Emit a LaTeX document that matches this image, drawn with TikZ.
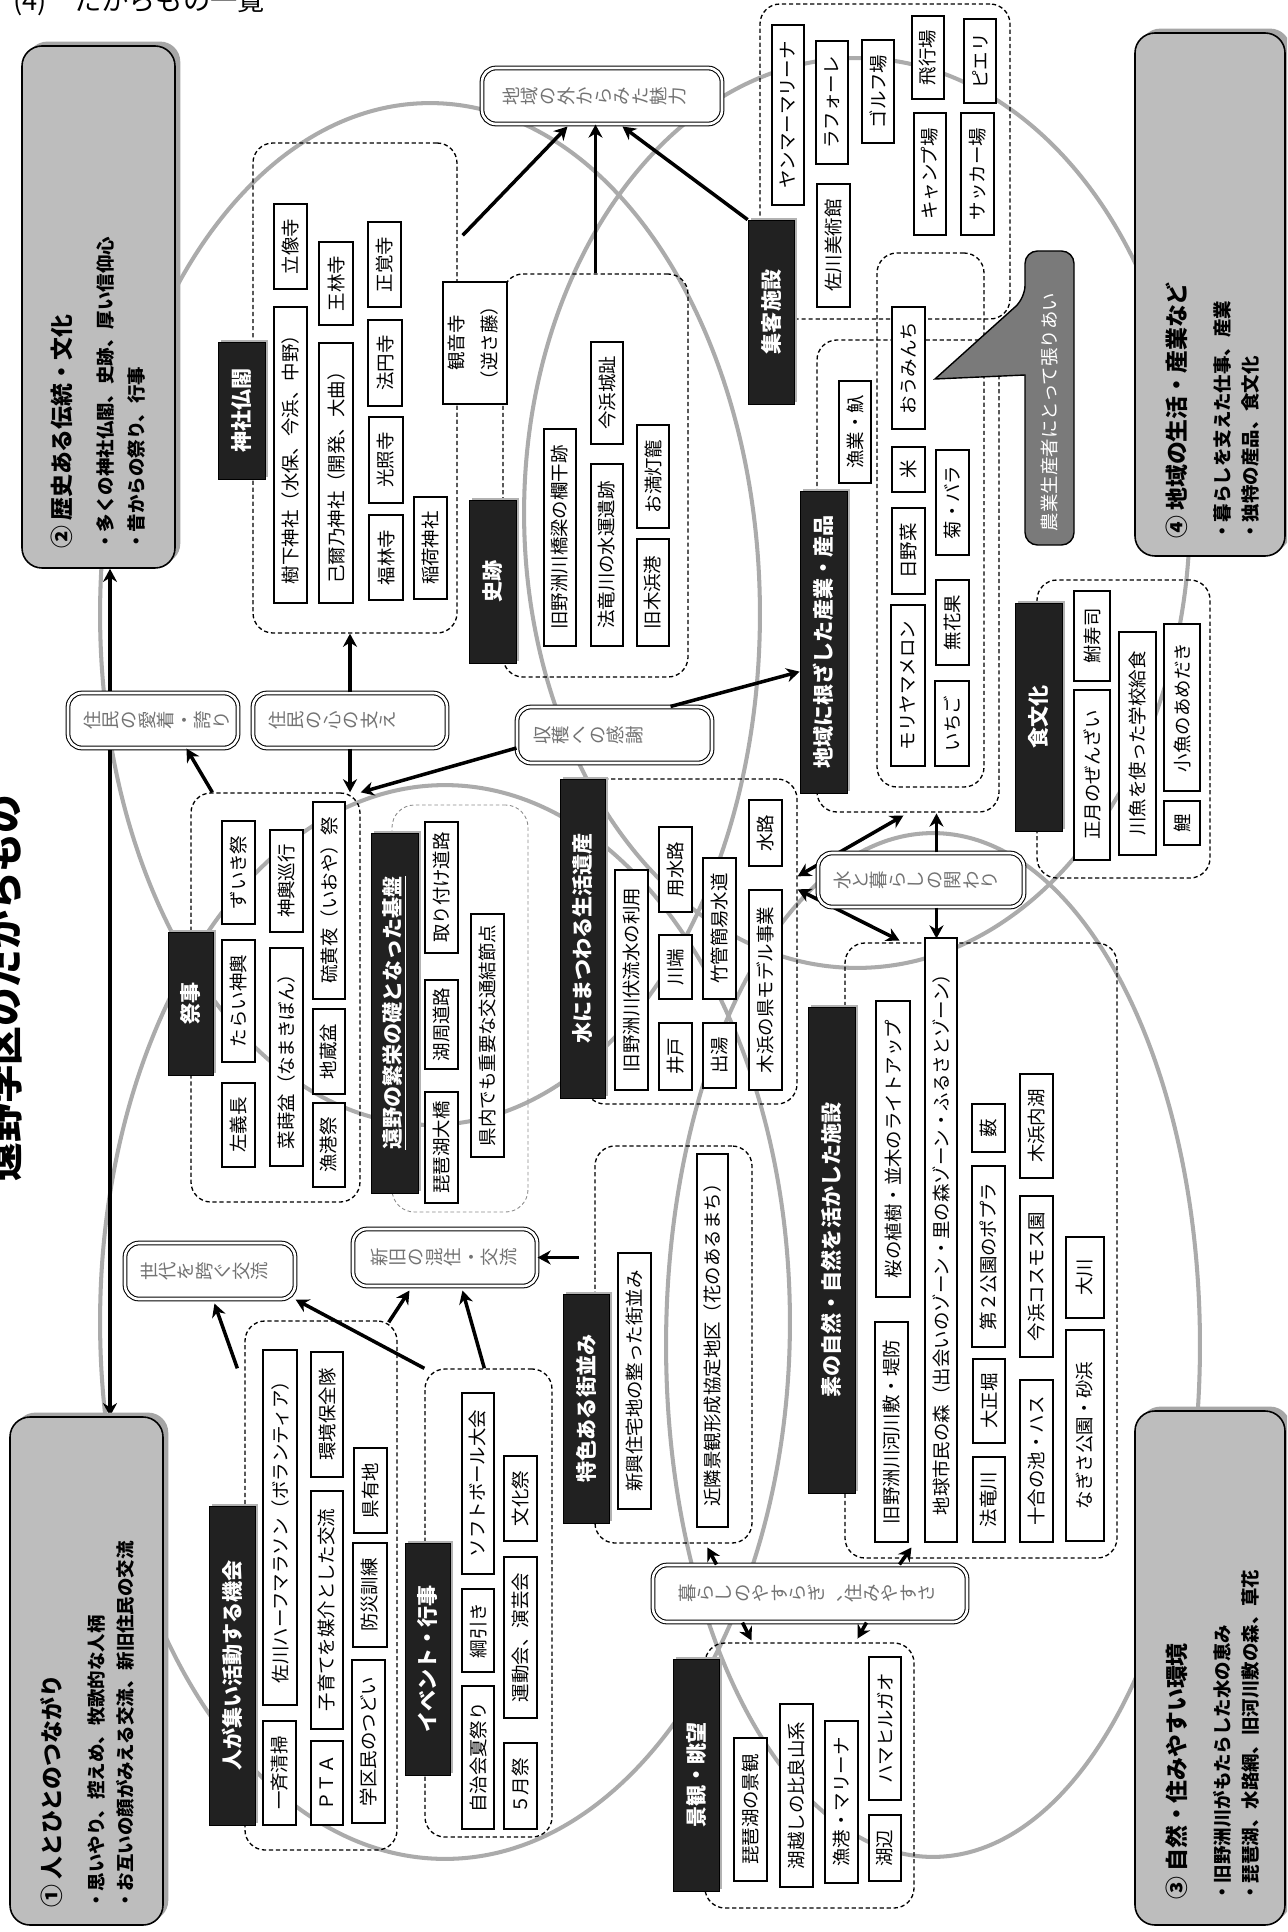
\documentclass[tikz,border=0pt]{standalone}
\usepackage{fontspec}
\setmainfont{Noto Sans CJK JP}
\usepackage{graphicx}
\usetikzlibrary{arrows.meta,calc,shadows}
\pgfdeclarelayer{bg}
\pgfsetlayers{bg,main}
\newcommand\fsz[1]{\fontsize{#1}{#1}\selectfont}
\makeatletter
\newcommand\rotchars[1]{\@tfor\rc@tok:=#1\do{\rotatebox[origin=c]{90}{\makebox[1em]{\rule[-0.12em]{0pt}{1em}\rc@tok}}}}
\makeatother
\newcommand\ibox[7][itm]{%
  \pgfmathsetmacro\ibW{abs(#5-#3)*0.02}%
  \pgfmathsetmacro\ibH{abs(#6-#4)*0.02}%
  \node[#1, minimum width=\ibW cm, minimum height=\ibH cm] (#2) at ({(#3+#5)/2},{(#4+#6)/2}) {\rotatebox{90}{#7}};}
\newcommand\dblbox[7]{%
  \pgfmathsetmacro\ibW{abs(#4-#2)*0.02}%
  \pgfmathsetmacro\ibH{abs(#5-#3)*0.02}%
  \node[dbl, minimum width=\ibW cm, minimum height=\ibH cm] (#1) at ({(#2+#4)/2},{(#3+#5)/2}) {};
  \node[dbltxt, anchor=west] (#1t) at ($(#1.west)+(#6,0)$) {\rotchars{#7}};}
\begin{document}
\begin{tikzpicture}[x=0.02cm, y=-0.02cm,
  grp/.style={draw, dash pattern=on 2.4pt off 1.6pt, line width=0.75pt, rounded corners=0.4cm, inner sep=0pt},
  grpg/.style={draw=black!45, dash pattern=on 2pt off 1.5pt, line width=0.5pt, rounded corners=0.45cm, inner sep=0pt},
  itm/.style={draw, fill=white, line width=0.9pt, inner sep=0pt, font=\fsz{10.5}},
  lbl/.style={draw=black, fill=black!87, text=white, inner sep=0pt, font=\bfseries\fsz{12},
    drop shadow={shadow xshift=1.6pt, shadow yshift=1.4pt, fill=black!30, opacity=1}},
  dbl/.style={draw, line width=0.6pt, double=white, double distance=1.5pt, fill=white, rounded corners=0.28cm, inner sep=0pt},
  dbltxt/.style={inner sep=0pt, text=black!55, font=\fsz{10.5}},
  corner/.style={draw, line width=0.9pt, fill=black!26, rounded corners=0.4cm, inner sep=0pt,
    drop shadow={shadow xshift=3pt, shadow yshift=2.5pt, fill=black!35, opacity=1}},
  chead/.style={inner sep=0pt, anchor=south, font=\bfseries\fsz{13}},
  ctxt/.style={inner sep=0pt, anchor=south, font=\bfseries\fsz{10.5}},
  ell/.style={draw=black!33, line width=2.3pt},
  arr/.style={line width=2pt, -{Stealth[length=7.5pt, width=8pt]}},
  arrb/.style={line width=2pt, {Stealth[length=7.5pt, width=8pt]}-{Stealth[length=7.5pt, width=8pt]}}
]
\useasboundingbox (0,0) rectangle (1287,1932);
\begin{pgfonlayer}{bg}
  \fill[white] (0,0) rectangle (1287,1932);
  \draw[ell] (445,1322) ellipse [x radius=6.9cm, y radius=10.74cm];
  \draw[ell] (430,614) ellipse [x radius=6.6cm, y radius=10.22cm];
  \draw[ell] (933,1345) ellipse [x radius=5.34cm, y radius=10.24cm];
  \draw[ell] (857,513) ellipse [x radius=6.66cm, y radius=9.1cm];
\end{pgfonlayer}
\clip (0,0) rectangle (1287,1932);

% header and title
\node[anchor=base west, inner sep=0pt, font=\fsz{15.5}] (hdr) at (13,11) {(4)\hspace{1em}たからもの一覧};
\node[inner sep=0pt, font=\bfseries\fsz{22}] (ttl) at (4,988) {\rotatebox{90}{遠野学区のたからもの}};

% corner boxes
\ibox[corner]{c2}{22}{46}{175}{568}{}
\ibox[corner]{c4}{1135}{33}{1285}{556}{}
\ibox[corner]{c1}{10}{1417}{163}{1925}{}
\ibox[corner]{c3}{1135}{1411}{1285}{1925}{}
\node[chead] (c2h) at (62,549) {\rotatebox{90}{② 歴史ある伝統・文化}};
\node[ctxt] (c2a) at (105,551) {\rotatebox{90}{・多くの神社仏閣、史跡、厚い信仰心}};
\node[ctxt] (c2b) at (137,551) {\rotatebox{90}{・昔からの祭り、行事}};
\node[chead] (c1h) at (52,1908) {\rotatebox{90}{① 人とひとのつながり}};
\node[ctxt] (c1a) at (97,1910) {\rotatebox{90}{・思いやり、控えめ、牧歌的な人柄}};
\node[ctxt] (c1b) at (125,1910) {\rotatebox{90}{・お互いの顔がみえる交流、新旧住民の交流}};
\node[chead] (c3h) at (1177,1900) {\rotatebox{90}{③ 自然・住みやすい環境}};
\node[ctxt] (c3a) at (1222,1902) {\rotatebox{90}{・旧野洲川がもたらした水の恵み}};
\node[ctxt] (c3b) at (1250,1902) {\rotatebox{90}{・琵琶湖、水路網、旧河川敷の森、草花}};
\node[chead] (c4h) at (1177,539) {\rotatebox{90}{④ 地域の生活・産業など}};
\node[ctxt] (c4a) at (1222,541) {\rotatebox{90}{・暮らしを支えた仕事、産業}};
\node[ctxt] (c4b) at (1250,541) {\rotatebox{90}{・独特の産品、食文化}};

% group boxes
\ibox[grp]{gjinja}{253}{143}{457}{633}{}
\ibox[grp]{gshiseki}{503}{274}{688}{677}{}
\ibox[grp]{gshukyaku}{760}{4}{1010}{319}{}
\ibox[grp]{gsangyo}{817}{340}{999}{812}{}
\ibox[grp]{gsangyob}{877}{253}{984}{787}{}
\ibox[grp]{gshoku}{1037}{580}{1210}{878}{}
\ibox[grp]{gsai}{191}{793}{360}{1202}{}
\ibox[grpg]{gtono}{392}{805}{528}{1212}{}
\ibox[grp]{gmizu}{585}{779}{797}{1104}{}
\ibox[grp]{gshizen}{845}{943}{1117}{1558}{}
\ibox[grp]{gtoku}{595}{1146}{752}{1543}{}
\ibox[grp]{ghito}{245}{1321}{397}{1850}{}
\ibox[grp]{gevent}{425}{1369}{552}{1837}{}
\ibox[grp]{gkeikan}{705}{1643}{914}{1908}{}

% labels
\ibox[lbl]{ljinja}{218}{342}{265}{479}{神社仏閣}
\ibox[lbl]{lshiseki}{469}{500}{516}{663}{史跡}
\ibox[lbl]{lshukyaku}{748}{220}{794}{404}{集客施設}
\ibox[lbl]{lsangyo}{800}{491}{847}{793}{地域に根ざした産業・産品}
\ibox[lbl]{lshoku}{1015}{603}{1062}{831}{食文化}
\ibox[lbl]{lsai}{168}{932}{213}{1075}{祭事}
\ibox[lbl]{ltono}{371}{833}{418}{1193}{\underline{遠野の繁栄の礎となった基盤}}
\ibox[lbl]{lmizu}{560}{779}{605}{1098}{水にまつわる生活遺産}
\ibox[lbl]{lshizen}{808}{1007}{855}{1493}{素の自然・自然を活かした施設}
\ibox[lbl]{ltoku}{563}{1294}{609}{1523}{特色ある街並み}
\ibox[lbl]{lhito}{209}{1506}{255}{1825}{人が集い活動する機会}
\ibox[lbl]{levent}{405}{1543}{450}{1775}{イベント・行事}
\ibox[lbl]{lkeikan}{673}{1659}{719}{1891}{景観・眺望}

% shrines and temples
\ibox{j1}{274}{204}{307}{289}{立像寺}
\ibox{j2}{274}{307}{307}{603}{樹下神社（水保、今浜、中野）}
\ibox{j3}{319}{242}{353}{325}{王林寺}
\ibox{j4}{319}{343}{353}{603}{己爾乃神社（開発、大曲）}
\ibox{j5}{368}{222}{401}{307}{正覚寺}
\ibox{j6}{368}{320}{402}{406}{法円寺}
\ibox{j7}{369}{417}{403}{503}{光照寺}
\ibox{j8}{369}{515}{403}{600}{福林寺}
\ibox{j9}{414}{497}{447}{599}{稲荷神社}
\ibox{kannon}{443}{282}{507}{404}{\begin{tabular}{@{}c@{}}観音寺\\[6.5pt]（逆さ藤）\end{tabular}}

% historic sites
\ibox{s1}{591}{342}{623}{444}{今浜城趾}
\ibox{s2}{544}{429}{576}{646}{旧野洲川橋梁の欄干跡}
\ibox{s3}{591}{464}{623}{646}{法竜川の水運遺跡}
\ibox{s4}{637}{425}{669}{528}{お満灯籠}
\ibox{s5}{637}{539}{669}{646}{旧木浜港}

% visitor facilities
\ibox{k1}{772}{25}{804}{205}{ヤンマーマリーナ}
\ibox{k2}{816}{41}{848}{164}{ラフォーレ}
\ibox{k3}{817}{184}{850}{307}{佐川美術館}
\ibox{k4}{862}{40}{894}{143}{ゴルフ場}
\ibox{k5}{912}{16}{944}{99}{飛行場}
\ibox{k6}{914}{113}{946}{235}{キャンプ場}
\ibox{k7}{964}{19}{996}{103}{ピエリ}
\ibox{k8}{961}{113}{994}{235}{サッカー場}

% industry and products
\ibox{p1}{839}{381}{871}{483}{漁業・魞}
\ibox{p2}{892}{307}{925}{429}{おうみんち}
\ibox{p3}{892}{447}{925}{492}{米}
\ibox{p4}{892}{508}{925}{594}{日野菜}
\ibox{p5}{891}{605}{925}{766}{モリヤマメロン}
\ibox{p6}{936}{450}{969}{555}{菊・バラ}
\ibox{p7}{936}{580}{969}{665}{無花果}
\ibox{p8}{935}{681}{969}{766}{いちご}

% food culture
\ibox{f1}{1074}{591}{1110}{681}{鮒寿司}
\ibox{f2}{1074}{690}{1110}{860}{正月のぜんざい}
\ibox{f3}{1119}{632}{1156}{855}{川魚を使った学校給食}
\ibox{f4}{1164}{624}{1200}{791}{小魚のあめだき}
\ibox{f5}{1164}{801}{1200}{845}{鯉}

% callout
\draw[line width=0.8pt, fill=black!52] (1025,298) -- (935,379) -- (1025,375) [rounded corners=0.25cm] -- (1025,545) -- (1074,545) -- (1074,251) -- (1025,251) -- cycle;
\node[inner sep=0pt, text=white, font=\fsz{10.5}] (callt) at (1049,412) {\rotatebox{90}{農業生産者にとって張りあい}};

% festivals
\ibox{m1}{222}{821}{255}{924}{ずいき祭}
\ibox{m2}{222}{940}{255}{1062}{たらい神輿}
\ibox{m3}{222}{1083}{255}{1167}{左義長}
\ibox{m4}{270}{830}{303}{932}{神輿巡行}
\ibox{m5}{270}{948}{303}{1166}{菜蒔盆（なまきぼん）}
\ibox{m6}{313}{802}{345}{999}{硫黄夜（いおや）祭}
\ibox{m7}{313}{1009}{345}{1094}{地蔵盆}
\ibox{m8}{313}{1103}{345}{1187}{漁港祭}

% infrastructure
\ibox{t1}{425}{822}{458}{953}{取り付け道路}
\ibox{t2}{425}{980}{458}{1069}{湖周道路}
\ibox{t3}{425}{1092}{458}{1203}{琵琶湖大橋}
\ibox{t4}{471}{914}{504}{1157}{県内でも重要な交通結節点}

% water heritage
\ibox{w1}{615}{870}{648}{1090}{旧野洲川伏流水の利用}
\ibox{w2}{659}{827}{692}{912}{用水路}
\ibox{w3}{659}{935}{692}{999}{川端}
\ibox{w4}{659}{1023}{692}{1090}{井戸}
\ibox{w5}{703}{858}{736}{999}{竹管簡易水道}
\ibox{w6}{703}{1023}{736}{1088}{出湯}
\ibox{w7}{749}{800}{782}{866}{水路}
\ibox{w8}{749}{890}{782}{1090}{木浜の県モデル事業}

% nature
\ibox{n1}{876}{1001}{910}{1297}{桜の植樹・並木のライトアップ}
\ibox{n2}{875}{1322}{908}{1542}{旧野洲川河川敷・堤防}
\ibox{n3}{925}{938}{957}{1542}{地球市民の森（出会いのゾーン・里の森ゾーン・ふるさとゾーン）}
\ibox{n4}{972}{1104}{1005}{1152}{薮}
\ibox{n5}{972}{1166}{1005}{1347}{第２公園のポプラ}
\ibox{n6}{973}{1359}{1005}{1443}{大正堀}
\ibox{n7}{973}{1457}{1005}{1542}{法竜川}
\ibox{n8}{1020}{1074}{1053}{1178}{木浜内湖}
\ibox{n9}{1020}{1196}{1053}{1357}{今浜コスモス園}
\ibox{n10}{1020}{1380}{1053}{1542}{十合の池・ハス}
\ibox{n11}{1066}{1237}{1104}{1318}{大川}
\ibox{n12}{1066}{1330}{1104}{1541}{なぎさ公園・砂浜}

% townscape
\ibox{u1}{618}{1253}{651}{1509}{新興住宅地の整った街並み}
\ibox{u2}{697}{1154}{728}{1527}{近隣景観形成協定地区（花のあるまち）}

% people activities
\ibox{h1}{263}{1350}{297}{1705}{佐川ハーフマラソン（ボランティア）}
\ibox{h2}{263}{1721}{296}{1825}{一斉清掃}
\ibox{h3}{311}{1352}{343}{1477}{環境保全隊}
\ibox{h4}{311}{1491}{343}{1729}{子育てを媒介とした交流}
\ibox{h5}{311}{1741}{343}{1825}{ＰＴＡ}
\ibox{h6}{354}{1448}{387}{1533}{県有地}
\ibox{h7}{353}{1543}{387}{1647}{防災訓練}
\ibox{h8}{352}{1660}{385}{1823}{学区民のつどい}

% events
\ibox{e1}{462}{1393}{494}{1574}{ソフトボール大会}
\ibox{e2}{462}{1589}{494}{1672}{綱引き}
\ibox{e3}{462}{1686}{494}{1829}{自治会夏祭り}
\ibox{e4}{504}{1456}{537}{1541}{文化祭}
\ibox{e5}{504}{1557}{537}{1718}{運動会、演芸会}
\ibox{e6}{504}{1743}{537}{1829}{５月祭}

% scenery
\ibox{v1}{734}{1738}{767}{1881}{琵琶湖の景観}
\ibox{v2}{780}{1704}{813}{1887}{湖越しの比良山系}
\ibox{v3}{825}{1721}{858}{1883}{漁港・マリーナ}
\ibox{v4}{869}{1657}{901}{1800}{ハマヒルガオ}
\ibox{v5}{869}{1815}{901}{1881}{湖辺}

% double-border boxes
\dblbox{soto}{482}{68}{722}{124}{20}{地域の外からみた魅力}
\dblbox{aichaku}{68}{693}{238}{748}{15}{住民の愛着・誇り}
\dblbox{kokoro}{253}{693}{447}{748}{15}{住民の心の支え}
\dblbox{shukaku}{517}{707}{712}{763}{16}{収穫への感謝}
\dblbox{sedai}{125}{1243}{295}{1299}{15}{世代を跨ぐ交流}
\dblbox{shinkyu}{353}{1229}{537}{1286}{17}{新旧の混住・交流}
\dblbox{mizukura}{818}{853}{1024}{907}{15}{水と暮らしの関わり}
\dblbox{kurashi}{653}{1565}{967}{1622}{25}{暮らしのやすらぎ、住みやすさ}

% connectors behind boxes
\coordinate (vx) at (110,0);
\begin{pgfonlayer}{bg}
  \draw[arrb] (c2.south -| vx) -- (c1.north -| vx);
  \draw[arrb] ($(gmizu.north east)+(0,98)$) -- ($(mizukura.north west)+(86,-37)$);
  \draw[arrb] ($(gmizu.north east)+(0,111)$) -- ($(mizukura.south west)+(82,33)$);
\end{pgfonlayer}

% arrows
\draw[arr] (kokoro.north) -- (kokoro.north |- gjinja.south);
\draw[arr] (kokoro.south) -- (kokoro.south |- gsai.north);
\draw[arr] ($(gsai.north west)+(22,0)$) -- ($(aichaku.south west)+(119,0)$);
\draw[arr] ($(shukaku.west)+(0,13)$) -- (gsai.north east);
\draw[arr] ($(shukaku.north east)+(-42,0)$) -- ($(lsangyo.north west)+(0,181)$);
\draw[arr] ($(gjinja.north east)+(5,93)$) -- ($(soto.south west)+(86,2)$);
\draw[arr] (gshiseki.north) -- (gshiseki.north |- soto.south);
\draw[arr] (lshukyaku.north west) -- ($(soto.south west)+(141,2)$);
\draw[arr] ($(shinkyu.east)+(41,0)$) -- (shinkyu.east);
\draw[arr] ($(ghito.north west)+(-7,48)$) -- ($(sedai.south west)+(90,4)$);
\draw[arr] (gevent.north west) -- (sedai.south east);
\draw[arr] ($(ghito.north east)+(-9,2)$) -- ($(shinkyu.south west)+(57,4)$);
\draw[arr] ($(gevent.north west)+(60,0)$) -- ($(shinkyu.south west)+(110,4)$);
\draw[arr] ($(kurashi.north west)+(64,0)$) -- ($(kurashi.north west)+(55,-17)$);
\draw[arr] ($(kurashi.north west)+(247,0)$) -- ($(kurashi.north west)+(259,-17)$);
\draw[arr] ($(kurashi.south west)+(90,0)$) -- ($(kurashi.south west)+(99,18)$);
\draw[arr] ($(kurashi.south west)+(214,0)$) -- ($(kurashi.south west)+(205,16)$);
\draw[arr] ($(mizukura.north west)+(119,0)$) -- ($(mizukura.north west)+(119,-39)$);
\draw[arr] ($(mizukura.south west)+(119,0)$) -- ($(mizukura.south west)+(119,31)$);
\end{tikzpicture}
\end{document}
